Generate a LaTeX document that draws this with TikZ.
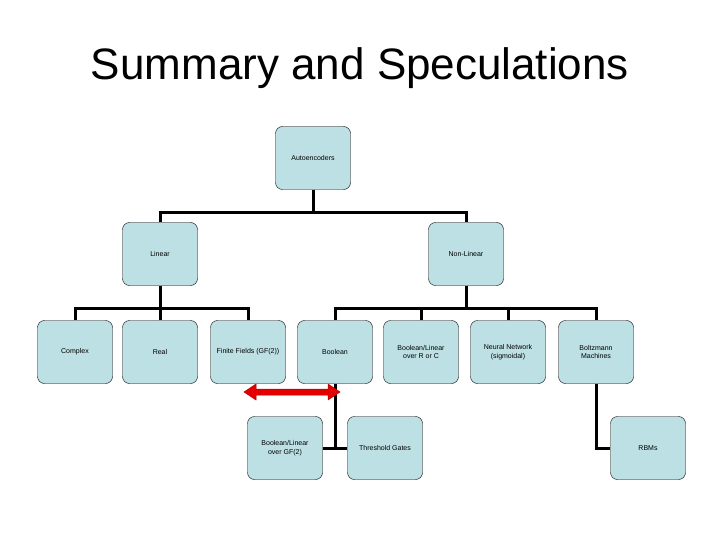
\documentclass[tikz,border=0pt]{standalone}
\usepackage{fontspec}
\setmainfont{Liberation Sans}
\usetikzlibrary{arrows.meta,calc}
\definecolor{boxfill}{RGB}{189,224,228}
\tikzset{box/.style={draw=black,fill=boxfill,rounded corners=7pt,minimum width=75pt,minimum height=63pt,font=\fontsize{7}{8.5}\selectfont,align=center,inner sep=1pt},
conn/.style={line width=3pt}}
\begin{document}
\begin{tikzpicture}[x=1pt,y=-1pt]
\useasboundingbox (0,0) rectangle (720,540);
\node at (360,68) {\fontsize{44}{48}\selectfont Summary and Speculations};
\node[box] (auto) at (313,158) {Autoencoders};
\node[box] (lin) at (160,254) {Linear};
\node[box] (nonlin) at (466,254) {Non-Linear};
\node[box] (cx) at (75,352) {Complex};
\node[box] (re) at (160,352) {Real};
\node[box] (ff) at (248,352) {Finite Fields (GF(2))};
\node[box] (bo) at (335,352) {Boolean};
\node[box] (blr) at (421,352) {Boolean/Linear\\over R or C};
\node[box] (nn) at (508,352) {Neural Network\\(sigmoidal)};
\node[box] (bm) at (596,352) {Boltzmann\\Machines};
\node[box] (blg) at (285,448) {Boolean/Linear\\over GF(2)};
\node[box] (tg) at (385,448) {Threshold Gates};
\node[box] (rbm) at (648,448) {RBMs};
\coordinate (j1) at (313,213);
\coordinate (j2) at (160,308);
\coordinate (j3) at (466,308);
\draw[conn] (auto.south) -- (j1);
\draw[conn] (lin.north) |- (j1) -| (nonlin.north);
\draw[conn] (lin.south) -- (j2);
\draw[conn] (cx.north) |- (j2) -| (ff.north);
\draw[conn] (re.north) -- (j2);
\draw[conn] (nonlin.south) -- (j3);
\draw[conn] (bo.north) |- (j3) -| (bm.north);
\draw[conn] (blr.north) -- (blr.north |- j3);
\draw[conn] (nn.north) -- (nn.north |- j3);
\draw[conn] (bo.south) |- (blg.east);
\draw[conn] (bo.south |- tg.west) -- (tg.west);
\draw[conn] (bm.south) |- (rbm.west);
\coordinate (al) at (244,392);
\coordinate (ar) at (340,392);
\draw[draw=red!70!black,fill=red!90!black,line width=0.5pt]
 (al) -- ++(12,-8) -- ++(0,5) -- ($(ar)+(-12,-3)$) -- ++(0,-5) -- (ar) -- ++(-12,8) -- ++(0,-5) -- ($(al)+(12,3)$) -- ++(0,5) -- cycle;
\end{tikzpicture}
\end{document}
